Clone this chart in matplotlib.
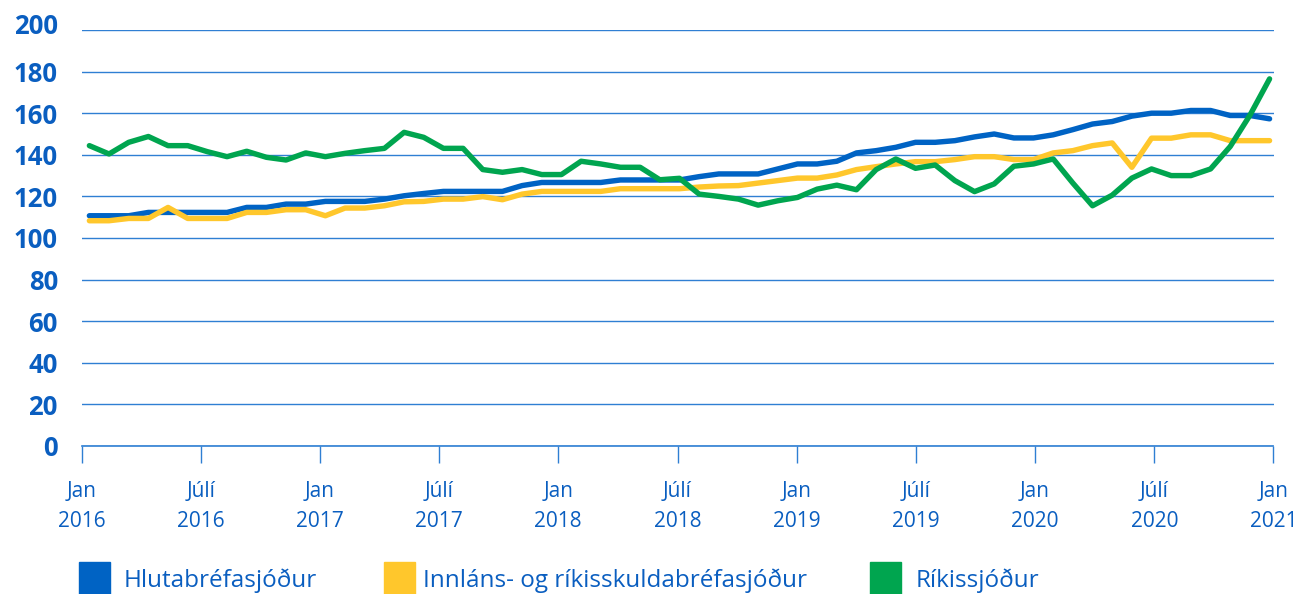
import matplotlib.pyplot as plt
from matplotlib.patches import Rectangle
from matplotlib.transforms import ScaledTranslation
import numpy as np

plt.rcParams['font.family'] = ['Open Sans', 'DejaVu Sans']

# mánaðargildi jan 2016 - jan 2021
months = np.arange(61)
tick_labels = ["Jan\n2016", "Júlí\n2016", "Jan\n2017", "Júlí\n2017", "Jan\n2018", "Júlí\n2018",
               "Jan\n2019", "Júlí\n2019", "Jan\n2020", "Júlí\n2020", "Jan\n2021"]
y_ticks = [0, 20, 40, 60, 80, 100, 120, 140, 160, 180, 200]

series_names = ["Hlutabréfasjóður", "Innláns- og ríkisskuldabréfasjóður", "Ríkissjóður"]

hluta = [110.7, 110.7, 110.7, 112.3, 112.3, 112.3, 112.3, 112.3, 114.7, 114.7,
         116.3, 116.3, 117.6, 117.6, 117.6, 118.7, 120.3, 121.4, 122.4, 122.4,
         122.4, 122.4, 125.2, 126.7, 126.7, 126.7, 126.7, 127.9, 127.9, 127.9,
         127.9, 129.5, 130.8, 130.8, 130.8, 133.2, 135.6, 135.6, 136.9, 140.9,
         142.0, 143.6, 146.0, 146.0, 146.8, 148.6, 150.0, 148.1, 148.1, 149.6,
         152.1, 154.8, 156.0, 158.6, 160.0, 160.0, 161.3, 161.3, 158.9, 158.9,
         157.3]

innlans = [108.3, 108.3, 109.4, 109.4, 114.7, 109.4, 109.4, 109.4, 112.3, 112.3,
           113.6, 113.6, 110.7, 114.4, 114.4, 115.5, 117.4, 117.6, 118.7, 118.7,
           119.9, 118.4, 121.1, 122.4, 122.4, 122.4, 122.4, 123.7, 123.7, 123.7,
           123.7, 124.5, 125.0, 125.2, 126.4, 127.6, 128.8, 128.8, 130.3, 132.9,
           134.3, 135.6, 136.7, 136.7, 137.7, 139.1, 139.1, 137.7, 137.7, 140.9,
           142.0, 144.4, 145.7, 134.0, 148.0, 148.0, 149.6, 149.6, 146.8, 146.8,
           146.8]

rikis = [144.4, 140.4, 146.0, 148.8, 144.4, 144.4, 141.5, 139.1, 141.7, 138.8,
         137.5, 140.9, 139.1, 140.7, 142.0, 143.1, 150.8, 148.4, 143.1, 143.1,
         132.9, 131.6, 132.9, 130.5, 130.5, 136.9, 135.6, 134.0, 134.0, 128.0,
         128.7, 121.1, 120.0, 118.7, 115.8, 117.9, 119.5, 123.5, 125.4, 123.2,
         132.9, 138.0, 133.5, 135.1, 127.6, 122.3, 126.0, 134.5, 135.6, 138.0,
         126.4, 115.5, 120.6, 128.8, 133.2, 130.0, 130.0, 133.2, 144.0, 159.0,
         176.5]

colors = ["#0063C4", "#FFC72C", "#00A54F"]
text_blue = "#0A5EC0"
grid_blue = "#2F7FD3"

W, H = 1296, 594
fig = plt.figure(figsize=(W / 100, H / 100), dpi=100)
ax = fig.add_axes([81.5 / W, 148 / H, 1192 / W, 416 / H])

for vals, c in zip([hluta, innlans, rikis], colors):
    ax.plot(months, vals, color=c, lw=3.9, solid_capstyle='round', solid_joinstyle='round', zorder=3)

ax.set_ylim(0, 200)
ax.set_xlim(-0.4, 60.2)
ax.set_yticks(y_ticks)
ax.set_xticks(np.linspace(-0.4, 60.2, len(tick_labels)))
ax.set_xticklabels(tick_labels, linespacing=1.55)
ax.yaxis.grid(True, color=grid_blue, lw=1.0)
ax.set_axisbelow(True)

for s in ["left", "top", "right"]:
    ax.spines[s].set_visible(False)
ax.spines["bottom"].set_color(grid_blue)
ax.spines["bottom"].set_linewidth(1.2)

ax.tick_params(axis='y', length=0, pad=17, labelsize=18.5, labelcolor=text_blue)
ax.tick_params(axis='x', length=12, width=1, color=grid_blue, pad=13.5, labelsize=15, labelcolor=text_blue)
ylabs = ax.get_yticklabels()
for lab in ylabs:
    lab.set_fontweight('bold')
# efsta talan situr aðeins ofar en línan
ylabs[-1].set_transform(ylabs[-1].get_transform() + ScaledTranslation(0, 7 / 100, fig.dpi_scale_trans))

# skýringar neðst
box_x = [79, 384, 870]
text_x = [124, 423, 916]
for x0, tx, name, c in zip(box_x, text_x, series_names, colors):
    fig.patches.append(Rectangle((x0 / W, 0), 31 / W, 32 / H, transform=fig.transFigure,
                                 color=c, clip_on=False))
    fig.text(tx / W, 13 / H, name, fontsize=17.5, color=text_blue, va='center', ha='left')

fig.savefig("out.png", dpi=100)
